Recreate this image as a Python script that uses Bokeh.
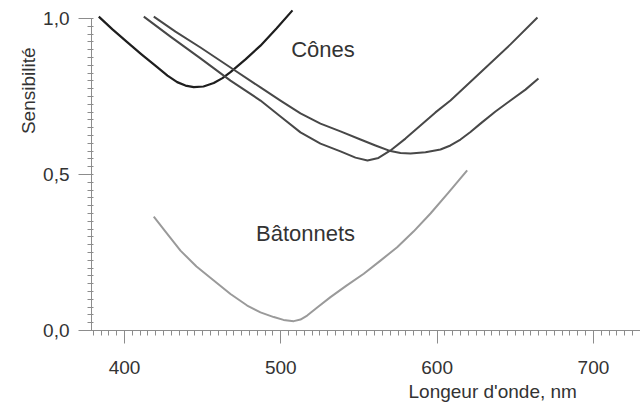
from bokeh.plotting import figure
from bokeh.models import FixedTicker, Label, Title
from bokeh.embed import file_html
from bokeh.resources import INLINE

# --- data ---
s_x = [383.56, 392.32, 401.73, 410.87, 420.92, 427.51, 433.71, 439.02, 444.33, 450.53,
       457.12, 462.69, 467.81, 477.41, 487.00, 497.23, 507.47]
s_y = [1.006, 0.965, 0.924, 0.885, 0.844, 0.817, 0.796, 0.785, 0.780, 0.782,
       0.793, 0.809, 0.828, 0.869, 0.913, 0.968, 1.026]

m_x = [412.35, 429.43, 448.62, 467.81, 487.00, 499.79, 512.59, 525.38, 538.18, 547.77,
       555.44, 562.48, 570.16, 579.75, 589.34, 598.94, 608.53, 627.72, 646.91, 664.18]
m_y = [1.006, 0.942, 0.872, 0.801, 0.737, 0.686, 0.635, 0.599, 0.574, 0.554,
       0.545, 0.553, 0.577, 0.615, 0.657, 0.699, 0.737, 0.827, 0.917, 1.003]

l_x = [418.74, 432.62, 448.62, 467.81, 487.00, 499.79, 512.59, 525.38, 538.18, 550.97,
       560.56, 570.16, 576.55, 582.95, 592.55, 602.14, 608.53, 614.93, 621.33, 627.72,
       637.32, 646.91, 656.51, 664.82]
l_y = [1.006, 0.958, 0.907, 0.843, 0.779, 0.737, 0.696, 0.663, 0.638, 0.612,
       0.593, 0.575, 0.569, 0.567, 0.571, 0.580, 0.593, 0.612, 0.636, 0.663,
       0.702, 0.737, 0.772, 0.808]

r_x = [418.74, 426.23, 435.82, 446.06, 457.12, 467.81, 478.49, 487.00, 495.50, 501.71,
       508.30, 512.58, 516.87, 524.10, 531.77, 542.01, 553.07, 563.76, 574.44, 584.87,
       595.75, 607.25, 619.22]
r_y = [0.365, 0.317, 0.256, 0.205, 0.160, 0.117, 0.080, 0.058, 0.043, 0.034,
       0.030, 0.035, 0.048, 0.077, 0.107, 0.144, 0.182, 0.224, 0.267, 0.317,
       0.375, 0.442, 0.513]

x_ticks = [400, 500, 600, 700]
x_minor = list(range(380, 731, 5))
y_ticks = [0.0, 0.5, 1.0]
y_minor = [i * 0.025 for i in range(41)]
y_tick_labels = {0.0: "0,0", 0.5: "0,5", 1.0: "1,0"}

FONT = "Liberation Sans"

p = figure(width=640, height=411, x_range=(378.9, 730.1), y_range=(0, 1.032),
           output_backend="svg", toolbar_location=None,
           min_border_left=91, min_border_right=0, min_border_top=8, min_border_bottom=81)
p.outline_line_color = None
p.grid.visible = False
p.background_fill_color = "white"
p.border_fill_color = "white"

p.line(s_x, s_y, line_color="#1e1e1e", line_width=2.2, line_join="round")
p.line(m_x, m_y, line_color="#484848", line_width=2.0, line_join="round")
p.line(l_x, l_y, line_color="#484848", line_width=2.0, line_join="round")
p.line(r_x, r_y, line_color="#9a9a9a", line_width=2.0, line_join="round")

p.xaxis.ticker = FixedTicker(ticks=x_ticks, minor_ticks=x_minor)
p.yaxis.ticker = FixedTicker(ticks=y_ticks, minor_ticks=y_minor)
p.yaxis.major_label_overrides = y_tick_labels
p.yaxis.bounds = (0, 1.0)

for ax in (p.xaxis, p.yaxis):
    ax.axis_line_color = "#8c8c8c"
    ax.major_tick_line_color = "#8c8c8c"
    ax.minor_tick_line_color = "#8c8c8c"
    ax.major_tick_out = 13
    ax.major_tick_in = 0
    ax.major_label_text_font = FONT
    ax.major_label_text_font_size = "19px"
    ax.major_label_text_color = "#333333"
p.xaxis.minor_tick_out = 5
p.xaxis.minor_tick_in = 0
p.yaxis.minor_tick_out = 4
p.yaxis.minor_tick_in = 2
p.xaxis.major_label_standoff = 17
p.yaxis.major_label_standoff = 9

def lab(x, y, t, size):
    p.add_layout(Label(x=x, y=y, text=t, text_font=FONT, text_font_size=size,
                       text_color="#333333", text_align="center",
                       text_baseline="middle"))

lab(527.0, 0.901, "Cônes", "22px")
lab(515.8, 0.311, "Bâtonnets", "22px")

p.add_layout(Title(text="Longeur d'onde, nm", align="left", offset=317,
                   text_font=FONT, text_font_size="19px", text_font_style="normal",
                   text_color="#333333", standoff=4), "below")
p.add_layout(Title(text="Sensibilité", align="right", offset=39,
                   text_font=FONT, text_font_size="19px", text_font_style="normal",
                   text_color="#333333", standoff=4), "left")

open("out.html", "w").write(file_html(p, INLINE))
